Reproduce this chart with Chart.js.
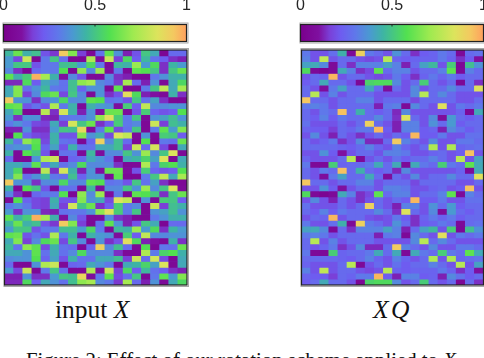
<!DOCTYPE html>
<html><head><meta charset="utf-8">
<script src="https://cdn.jsdelivr.net/npm/chart.js@4"></script>
<style>
html,body{margin:0;padding:0;background:#fff;width:484px;height:358px;overflow:hidden}
canvas{position:absolute}
.cap{position:absolute;font-family:"Liberation Serif",serif;color:#111;white-space:nowrap}
</style></head><body>
<canvas id="barL"></canvas><canvas id="barR"></canvas><canvas id="heatL"></canvas><canvas id="heatR"></canvas>
<div class="cap" style="left:55px;top:295px;font-size:25.5px">input <i>X</i></div>
<div class="cap" style="left:373px;top:295px;font-size:25.5px;letter-spacing:2.5px"><i>XQ</i></div>
<div class="cap" style="left:26px;top:348px;font-size:20.8px">Figure 2: Effect of our rotation scheme applied to <i>X</i>.</div>
<script>
const colorbarTicks=[0,0.5,1];
const columns=[0,1,2,3,4,5,6,7,8,9,10,11,12,13,14,15,16,17,18,19];
// order in which the 20 distinct rows appear from top to bottom of each map
const rowOrder=[0,1,2,3,4,5,6,7,8,9,10,11,12,13,14,15,16,17,18,19,10,6,8,17,3,14,12,11,4,0,2,9,7,15,19,16,18,1,13,5];
const inputRows=[
[.46,.62,.44,.48,.2,.15,.92,.66,.16,.05,.28,.6,.36,.12,.2,.5,.42,.04,.26,.26],
[.38,.18,.8,.05,.3,.5,.27,.05,.05,.74,.08,.8,.16,.55,.22,.46,.28,.22,.14,.12],
[.38,.5,.5,.2,.3,.3,.48,.48,.38,.55,.3,.06,.46,.44,.7,.38,.56,.14,.45,.38],
[.33,.14,.05,.25,.3,.3,.58,.05,.68,.34,.7,.08,.3,.06,.6,.58,.5,.14,.5,.62],
[.6,.44,.52,.97,.72,.44,.1,.34,.2,.06,.06,.34,.14,.12,.05,.05,.3,.36,.44,.44],
[.13,.13,.56,.22,.42,.36,.28,.48,.68,.72,.34,.3,.15,.72,.26,.12,.36,.06,.42,.55],
[.42,.66,.27,.36,.46,.3,.28,.48,.24,.36,.36,.06,.6,.05,.05,.3,.5,.78,.42,.72],
[.42,.66,.16,.34,.56,.62,.18,.5,.34,.06,.36,.14,.2,.86,.56,.12,.1,.06,.44,.14],
[.92,.36,.36,.14,.34,.36,.55,.34,.34,.6,.58,.28,.3,.2,.5,.28,.4,.14,.05,.05],
[.6,.62,.2,.28,.2,.74,.3,.44,.06,.44,.38,.36,.08,.52,.22,.78,.34,.34,.36,.36],
[.42,.55,.05,.05,.76,.14,.82,.44,.12,.36,.1,.62,.62,.08,.2,.52,.24,.2,.22,.58],
[.38,.14,.36,.36,.13,.12,.28,.3,.3,.36,.68,.85,.52,.3,.5,.05,.36,.4,.48,.36],
[.3,.36,.3,.18,.16,.42,.16,.82,.5,.62,.14,.22,.52,.3,.34,.05,.8,.16,.48,.44],
[.12,.12,.36,.14,.14,.38,.5,.48,.88,.08,.3,.6,.18,.28,.5,.05,.3,.6,.38,.66],
[.06,.58,.24,.18,.16,.44,.2,.2,.66,.36,.42,.18,.84,.78,.06,.36,.06,.52,.5,.22],
[.46,.28,.68,.6,.18,.44,.28,.26,.05,.24,.9,.34,.48,.26,.05,.58,.05,.3,.28,.62],
[.34,.36,.36,.58,.24,.4,.2,.44,.28,.28,.42,.42,.48,.16,.8,.26,.82,.18,.05,.42],
[.44,.06,.58,.5,.2,.06,.28,.28,.06,.46,.08,.34,.34,.5,.36,.7,.34,.5,.84,.06],
[.26,.06,.05,.36,.74,.8,.06,.24,.26,.42,.36,.3,.06,.42,.45,.54,.4,.84,.05,.42],
[.42,.42,.36,.6,.28,.42,.28,.34,.56,.34,.34,.34,.14,.06,.06,.74,.3,.54,.58,.44]
];
const rotatedRows=[
[.3,.2,.2,.27,.44,.06,.9,.3,.26,.2,.36,.26,.14,.22,.24,.3,.26,.06,.26,.28],
[.32,.2,.78,.2,.26,.26,.2,.18,.2,.76,.24,.22,.24,.24,.24,.3,.24,.14,.22,.1],
[.4,.42,.34,.06,.26,.14,.32,.32,.32,.4,.32,.12,.26,.4,.46,.2,.52,.05,.48,.36],
[.56,.06,.03,.06,.42,.32,.14,.18,.6,.26,.32,.32,.2,.26,.26,.32,.6,.06,.32,.26],
[.2,.26,.24,.96,.2,.26,.26,.2,.18,.2,.3,.22,.14,.24,.3,.24,.3,.22,.26,.26],
[.22,.26,.42,.26,.26,.2,.05,.54,.56,.56,.34,.2,.26,.52,.26,.2,.26,.05,.26,.14],
[.26,.2,.08,.3,.4,.26,.26,.42,.26,.08,.26,.2,.34,.2,.26,.26,.34,.26,.26,.85],
[.26,.76,.2,.32,.2,.26,.26,.26,.2,.2,.2,.2,.34,.76,.26,.34,.26,.2,.2,.2],
[.93,.26,.26,.2,.26,.26,.32,.32,.2,.26,.26,.26,.18,.26,.26,.26,.26,.2,.2,.26],
[.3,.32,.3,.2,.26,.26,.26,.26,.12,.3,.32,.06,.34,.26,.2,.85,.2,.3,.26,.3],
[.26,.2,.3,.26,.94,.26,.44,.26,.22,.26,.13,.34,.2,.2,.2,.2,.2,.24,.06,.42],
[.26,.22,.32,.22,.3,.26,.26,.26,.34,.26,.14,.84,.26,.2,.34,.08,.38,.26,.22,.26],
[.28,.2,.2,.2,.26,.2,.26,.9,.26,.2,.12,.32,.32,.2,.36,.26,.38,.22,.26,.26],
[.24,.22,.22,.16,.26,.24,.3,.3,.96,.22,.12,.32,.32,.22,.24,.12,.34,.28,.22,.26],
[.2,.34,.2,.12,.26,.2,.14,.2,.26,.2,.26,.22,.96,.22,.22,.3,.2,.2,.28,.28],
[.26,.2,.24,.3,.14,.2,.34,.13,.13,.26,.92,.32,.26,.2,.34,.2,.2,.3,.3,.26],
[.26,.26,.26,.26,.24,.22,.26,.32,.24,.2,.32,.24,.2,.26,.74,.2,.74,.24,.26,.28],
[.2,.2,.36,.22,.1,.2,.26,.26,.2,.32,.32,.3,.2,.2,.24,.26,.2,.22,.94,.2],
[.24,.2,.2,.2,.26,.76,.06,.2,.26,.2,.28,.22,.26,.26,.32,.26,.2,.76,.2,.4],
[.3,.06,.06,.52,.24,.26,.26,.3,.42,.26,.42,.06,.42,.3,.26,.52,.3,.26,.6,.42]
];
const cmapStops=[0,.1,.16,.22,.3,.38,.45,.58,.71,.84,.93,1];
const cmapColors=["#7a008c","#7f10a0","#7a40d8","#6e5cf0","#5f78ea","#4a9ad0","#3eb4a4","#52e050","#a0ea50","#dce45c","#f4c860","#ffa05e"];

const hex=h=>[1,3,5].map(i=>parseInt(h.substr(i,2),16));
function colorOf(v){
  let i=0;while(i<cmapStops.length-2&&v>cmapStops[i+1])i++;
  const t=Math.min(1,Math.max(0,(v-cmapStops[i])/(cmapStops[i+1]-cmapStops[i])));
  const a=hex(cmapColors[i]),b=hex(cmapColors[i+1]);
  return `rgb(${a.map((c,k)=>Math.round(c+(b[k]-c)*t)).join(",")})`;
}
const frame={id:"frame",beforeDatasetsDraw(c){const a=c.chartArea,x=c.ctx;x.save();x.fillStyle="#6a70f0";x.fillRect(a.left,a.top,a.width,a.height);x.restore();},
 afterDraw(c){
  const a=c.chartArea,x=c.ctx;x.save();
  x.strokeStyle="#a8a8a8";x.lineWidth=1;x.strokeRect(a.left-0.5,a.top-1.5,a.width+2,a.height+3);
  x.strokeStyle="#222";x.lineWidth=1.2;x.strokeRect(a.left,a.top,a.width,a.height);
  const s=c.scales.x;
  if(s.type==="linear"){x.lineWidth=1;x.beginPath();const p=s.getPixelForValue(colorbarTicks[1]);x.moveTo(p,a.top);x.lineTo(p,a.top+2);x.stroke();}
  x.restore();}};
function size(id,l,t,w,h){const e=document.getElementById(id);e.style.left=l+"px";e.style.top=t+"px";e.width=w;e.height=h;e.style.width=w+"px";e.style.height=h+"px";return e;}
function heat(id,rows,l,t,w,h,pad){
  new Chart(size(id,l,t,w,h),{type:"bar",plugins:[frame],
   data:{labels:columns,datasets:rowOrder.map((r,i)=>({grouped:false,barPercentage:1,categoryPercentage:1,borderWidth:0,
     data:columns.map(()=>[i,i+1]),backgroundColor:rows[r].map(colorOf)}))},
   options:{responsive:false,animation:false,layout:{padding:pad},
     plugins:{legend:{display:false},tooltip:{enabled:false}},
     scales:{x:{display:false},y:{display:false,min:0,max:rowOrder.length,reverse:true}}}});
}
function bar(id,l,t,w,h,pad){
  new Chart(size(id,l,t,w,h),{type:"bar",plugins:[frame],
   data:{labels:[""],datasets:[{data:[[0,1]],barPercentage:1,categoryPercentage:1,borderWidth:0,
     backgroundColor(ctx){const s=ctx.chart.scales.x;if(!s||s.width===0||!isFinite(s.left))return cmapColors[4];
       const g=ctx.chart.ctx.createLinearGradient(s.left,0,s.right,0);cmapStops.forEach((v,i)=>g.addColorStop(v,cmapColors[i]));return g;}}]},
   options:{indexAxis:"y",responsive:false,animation:false,layout:{padding:pad},
     plugins:{legend:{display:false},tooltip:{enabled:false}},
     scales:{y:{display:false},
       x:{position:"top",min:0,max:1,border:{display:false},grid:{display:false},
          afterBuildTicks(s){s.ticks=colorbarTicks.map(v=>({value:v}));},
          afterFit(s){s.height=24.5;},
          ticks:{autoSkip:false,maxRotation:0,padding:1.5,color:"#262626",font:{family:"'Liberation Sans',Arial,sans-serif",size:16},callback:v=>String(v)}}}}});
}
bar("barL",-20,0,230,44,{left:23.5,right:23.5,top:0,bottom:2.5});
bar("barR",277,0,230,44,{left:23.5,right:23.5,top:0,bottom:2.5});
heat("heatL",inputRows,2,48,188,240,{left:2.5,right:3,top:2,bottom:3});
heat("heatR",rotatedRows,299,48,188,240,{left:2.5,right:3.5,top:2,bottom:3});
</script></body></html>
